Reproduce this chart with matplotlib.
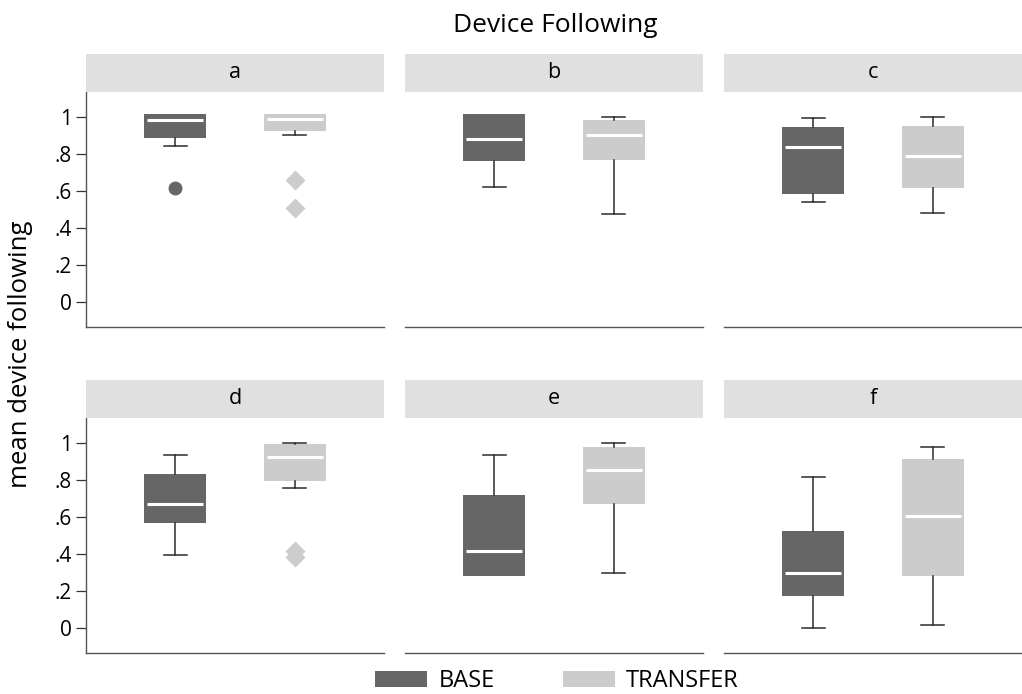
import matplotlib.pyplot as plt
from matplotlib.patches import Patch

# values (mean device following per panel)
panels = ['a', 'b', 'c', 'd', 'e', 'f']
groups = ['BASE', 'TRANSFER']

base_q1 = [0.887, 0.762, 0.584, 0.569, 0.284, 0.176]
base_med = [0.982, 0.879, 0.840, 0.670, 0.418, 0.298]
base_q3 = [1.018, 1.015, 0.944, 0.832, 0.722, 0.525]
base_lo = [0.845, 0.620, 0.540, 0.397, 0.284, 0.000]
base_hi = [1.018, 1.015, 0.997, 0.936, 0.936, 0.817]
base_out = [[0.618], [], [], [], [], []]

transfer_q1 = [0.924, 0.768, 0.616, 0.796, 0.672, 0.284]
transfer_med = [0.990, 0.900, 0.791, 0.925, 0.857, 0.607]
transfer_q3 = [1.018, 0.982, 0.951, 0.995, 0.977, 0.913]
transfer_lo = [0.900, 0.476, 0.481, 0.755, 0.298, 0.018]
transfer_hi = [1.018, 1.000, 1.000, 0.999, 1.000, 0.979]
transfer_out = [[0.658, 0.510], [], [], [0.420, 0.385], [], []]

yticks = [0, 0.2, 0.4, 0.6, 0.8, 1]
yticklabels = ['0', '.2', '.4', '.6', '.8', '1']

colors = ['#666666', '#cccccc']
markers = ['o', 'D']
strip_col = '#e0e0e0'
spine_col = '#555555'

plt.rcParams['font.family'] = ['Open Sans', 'DejaVu Sans']

W, H = 1022, 694
fig = plt.figure(figsize=(W / 100, H / 100), dpi=100)

col_x = [86, 405, 724]        # left edge of each column, px
col_w = 298
row_plot = [(92, 326.7), (418, 653)]   # top, bottom px
row_strip = [(54, 92), (380, 418)]

def stats(i, q1, med, q3, lo, hi, out):
    return dict(q1=q1[i], med=med[i], q3=q3[i], whislo=lo[i], whishi=hi[i], fliers=out[i])

for i, name in enumerate(panels):
    r, c = divmod(i, 3)
    x0 = col_x[c]
    top, bot = row_plot[r]
    ax = fig.add_axes([x0 / W, 1 - bot / H, col_w / W, (bot - top) / H])
    st_top, st_bot = row_strip[r]
    sax = fig.add_axes([x0 / W, 1 - st_bot / H, col_w / W, (st_bot - st_top) / H])
    sax.set_facecolor(strip_col)
    sax.set_xticks([]); sax.set_yticks([])
    for s in sax.spines.values():
        s.set_visible(False)
    sax.text(0.5, 0.5, name, ha='center', va='center', fontsize=15.5, transform=sax.transAxes)

    st = [stats(i, base_q1, base_med, base_q3, base_lo, base_hi, base_out),
          stats(i, transfer_q1, transfer_med, transfer_q3, transfer_lo, transfer_hi, transfer_out)]
    for k in range(2):
        bp = ax.bxp([st[k]], positions=[k + 1], widths=0.52, capwidths=0.19, patch_artist=True,
                    showfliers=True,
                    boxprops=dict(facecolor=colors[k], edgecolor='none'),
                    medianprops=dict(color='white', linewidth=2.2, solid_capstyle='butt'),
                    whiskerprops=dict(color='#2b2b2b', linewidth=1.1),
                    capprops=dict(color='#2b2b2b', linewidth=1.1),
                    flierprops=dict(marker=markers[k], markerfacecolor=colors[k],
                                    markeredgecolor='none', markersize=10))
        # no cap when the whisker has zero length
        if st[k]['whislo'] >= st[k]['q1']:
            bp['caps'][0].set_visible(False)
            bp['whiskers'][0].set_visible(False)
        if st[k]['whishi'] <= st[k]['q3']:
            bp['caps'][1].set_visible(False)
            bp['whiskers'][1].set_visible(False)
        for m in bp['medians']:
            xd = m.get_xdata()
            m.set_xdata([min(xd) + 0.025, max(xd) - 0.025])

    ax.set_xlim(0.25, 2.75)
    ax.set_ylim(-0.133, 1.135)
    ax.set_xticks([])
    ax.spines['top'].set_visible(False)
    ax.spines['right'].set_visible(False)
    ax.spines['bottom'].set_color(spine_col)
    ax.spines['bottom'].set_linewidth(1.0)
    if c == 0:
        ax.spines['left'].set_color(spine_col)
        ax.spines['left'].set_linewidth(1.0)
        ax.set_yticks(yticks)
        ax.set_yticklabels(yticklabels, fontsize=15)
        ax.tick_params(axis='y', length=7.2, width=0.9, color='#333333', pad=3)
    else:
        ax.spines['left'].set_visible(False)
        ax.set_yticks([])

fig.text(555 / W, 1 - 22 / H, 'Device Following', ha='center', va='center_baseline', fontsize=19)
fig.text(21 / W, 1 - 354 / H, 'mean device following', ha='center', va='center',
         rotation=90, fontsize=18.5)

handles = [Patch(facecolor=colors[k], edgecolor='none', label=groups[k]) for k in range(2)]
fig.legend(handles=handles, loc='center', bbox_to_anchor=(557 / W, 1 - 681 / H), ncol=2,
           frameon=False, fontsize=17, handlelength=2.2, handleheight=0.64,
           handletextpad=0.47, columnspacing=2.9, borderpad=0.1)

fig.savefig('out.png', dpi=100)
